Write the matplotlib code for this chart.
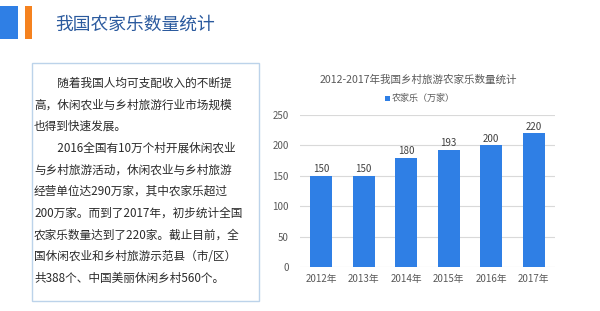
import matplotlib
matplotlib.use("Agg")
import matplotlib.pyplot as plt
from matplotlib.patches import Rectangle

plt.rcParams['font.family'] = ['Noto Sans CJK SC', 'DejaVu Sans']

years = ["2012年", "2013年", "2014年", "2015年", "2016年", "2017年"]
values = [150, 150, 180, 193, 200, 220]
yticks = [0, 50, 100, 150, 200, 250]
header_title = "我国农家乐数量统计"
chart_title = "2012-2017年我国乡村旅游农家乐数量统计"
legend_label = "农家乐（万家）"
body_lines = [
    "　　随着我国人均可支配收入的不断提",
    "高，休闲农业与乡村旅游行业市场规模",
    "也得到快速发展。",
    "　　2016全国有10万个村开展休闲农业",
    "与乡村旅游活动，休闲农业与乡村旅游",
    "经营单位达290万家，其中农家乐超过",
    "200万家。而到了2017年，初步统计全国",
    "农家乐数量达到了220家。截止目前，全",
    "国休闲农业和乡村旅游示范县（市/区）",
    "共388个、中国美丽休闲乡村560个。",
]

W, H = 600, 311
fig = plt.figure(figsize=(W / 100, H / 100), dpi=100)
fig.patch.set_facecolor("white")

def fx(x):
    return x / W

def fy(y):
    return 1 - y / H

# header decorations
fig.patches.append(Rectangle((fx(0), fy(39)), fx(18), 33 / H, transform=fig.transFigure,
                             facecolor="#2f7fe5", edgecolor="none"))
fig.patches.append(Rectangle((fx(25), fy(39)), fx(7), 33 / H, transform=fig.transFigure,
                             facecolor="#f5821f", edgecolor="none"))
fig.text(fx(55), fy(25), header_title, fontsize=12.8, color="#2b5a9e", va="center", ha="left")

# text box
fig.patches.append(Rectangle((fx(32), fy(301)), fx(259 - 32), (301 - 63) / H, transform=fig.transFigure,
                             facecolor="white", edgecolor="#bcd3ea", linewidth=1.0))
y0, dy = 83, 21.7
for i, line in enumerate(body_lines):
    fig.text(fx(34), fy(y0 + i * dy), line, fontsize=8.4, color="#2a2a2a", va="center", ha="left")

# chart
ax = fig.add_axes([fx(300), fy(267), fx(555 - 300), (267 - 115) / H])
x = list(range(len(years)))
bars = ax.bar(x, values, width=0.52, color="#2f7fe5", zorder=3, label=legend_label)
ax.set_xlim(-0.5, len(years) - 0.5)
ax.set_ylim(0, 250)
ax.set_yticks(yticks)
ax.set_xticks(x)
ax.set_xticklabels(years)
ax.tick_params(axis="both", length=0, labelsize=7, colors="#595959")
ax.tick_params(axis="x", pad=5)
ax.tick_params(axis="y", pad=8)
ax.grid(axis="y", color="#d9d9d9", linewidth=0.8, zorder=0)
for s in ax.spines.values():
    s.set_visible(False)
for xi, v in zip(x, values):
    ax.annotate(str(v), (xi, v), xytext=(0, 1), textcoords="offset points",
                ha="center", va="bottom", fontsize=7, color="#404040")

fig.text(fx(418), fy(80), chart_title, fontsize=7.6, color="#595959", ha="center", va="center")
fig.patches.append(Rectangle((fx(385), fy(101)), fx(5), 5 / H, transform=fig.transFigure,
                             facecolor="#2f7fe5", edgecolor="none"))
fig.text(fx(392), fy(98), legend_label, fontsize=6.5, color="#595959", ha="left", va="center")

fig.savefig("out.png", dpi=100, facecolor="white")
